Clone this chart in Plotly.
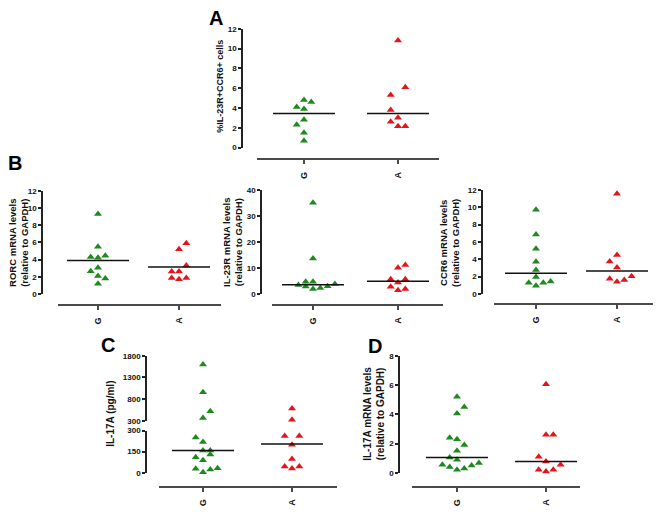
import plotly.graph_objects as go

W, H = 661, 514
OFF = 8  # default page body margin

# ---------------- data ----------------
groups = ["G", "A"]

# Panel A: %IL-23R+CCR6+ cells
a_g = [4.8, 4.6, 4.1, 3.9, 2.8, 2.3, 1.5, 0.7]
a_a = [10.8, 6.1, 5.3, 3.8, 3.0, 2.6, 2.15, 2.15]
a_med = [3.45, 3.45]

# Panel B1: RORC mRNA levels
rorc_g = [9.3, 5.5, 4.3, 4.2, 4.45, 3.05, 2.65, 2.1, 1.8, 1.2]
rorc_a = [5.9, 5.2, 3.3, 2.6, 2.6, 1.85, 1.7, 1.85]
rorc_med = [3.9, 3.15]

# Panel B2: IL-23R mRNA levels
il23r_g = [35.0, 13.6, 4.7, 4.7, 3.4, 2.9, 1.9, 2.3, 3.0, 3.8]
il23r_a = [11.1, 10.1, 5.7, 5.7, 4.4, 2.8, 1.4, 1.9]
il23r_med = [3.5, 4.9]

# Panel B3: CCR6 mRNA levels
ccr6_g = [9.7, 6.85, 5.2, 3.7, 2.75, 1.95, 1.3, 0.95, 1.3, 1.45]
ccr6_a = [11.55, 4.5, 3.75, 3.05, 2.05, 1.75, 1.6, 1.4]
ccr6_med = [2.4, 2.65]

# Panel C: IL-17A (pg/ml), broken axis at 300
il17_g = [1600, 960, 520, 360, 250, 218, 159, 159, 129, 110, 89, 28, 3, 23, 33]
il17_a = [585, 320, 262, 262, 199, 98, 45, 30, 45]
il17_med = [159, 204]

# Panel D: IL-17A mRNA levels
il17m_g = [5.2, 4.5, 4.05, 2.4, 2.3, 1.9, 1.5, 1.05, 0.9, 0.55, 0.4, 0.2, 0.3, 0.5, 0.67]
il17m_a = [6.05, 2.6, 2.6, 1.1, 0.77, 0.55, 0.2, 0.08, 0.2]
il17m_med = [1.05, 0.78]

# horizontal jitter slots (presentation only)
a_g_slot = [0, 1, -1, 0, 0, -1, 0, 0]
a_a_slot = [0, 1, -1, -1, 0, -1, 0, 1]
rorc_g_slot = [0, 0, -1, 0, 1, 0, -1, 0, 1, 0]
rorc_a_slot = [1, 0, 1, -1, 0, -1, 0, 1]
il23r_g_slot = [0, 0, -1, 0, -2, -1, 0, 1, 2, 3]
il23r_a_slot = [1, 0, -1, 1, 0, -1, 0, 1]
ccr6_g_slot = [0, 0, 0, 0, 0, 0, -1, 0, 1, 2]
ccr6_a_slot = [0, 0, -1, 0, 2, -1, 1, 0]
il17_g_slot = [0, 0, 1, 0, -1, 0, 0, 1, 1, -1, 0, -1, 0, 1, 2]
il17_a_slot = [0, 0, -1, 1, 0, 0, -1, 0, 1]
il17m_g_slot = [0, 1, 0, -1, 0, 1, 0, -1, 0, -2, -1, 0, 1, 2, 3]
il17m_a_slot = [0, 0, 1, -1, 0, 2, -1, 0, 1]

# ---------------- styling ----------------
GREEN = "#1c8a1c"
RED = "#e3141b"
FONT = "Liberation Sans, Arial, sans-serif"
SLOT_PX = 7.3
MED_HALF_PX = 31

def px_x(p):
    return (p - OFF) / W

def px_y(p):
    return 1 - (p - OFF) / H

fig = go.Figure()
layout = {}

def make_x(n, spec):
    unit = spec["a"] - spec["g"]
    rng = [(spec["xl"] - spec["g"]) / unit, (spec["xr"] - spec["g"]) / unit]
    layout["xaxis" + ("" if n == 1 else str(n))] = dict(
        domain=[px_x(spec["xl"]), px_x(spec["xr"])],
        range=rng, anchor="free", position=px_y(spec["xline"]),
        showline=True, linecolor="#4a4a4a", linewidth=2,
        ticks="outside", ticklen=4, tickwidth=1.5, tickcolor="#4a4a4a",
        tickvals=[0, 1], ticktext=groups, tickangle=-90, ticklabelstandoff=4,
        tickfont=dict(family=FONT, size=9, color="#111", weight="bold"),
        showgrid=False, zeroline=False, fixedrange=True,
    )
    return unit

def make_y(n, yx, y0, yt, rng, tickvals):
    layout["yaxis" + ("" if n == 1 else str(n))] = dict(
        domain=[px_y(y0), px_y(yt)], range=rng,
        anchor="free", position=px_x(yx),
        showline=True, linecolor="#222", linewidth=1.5,
        ticks="outside", ticklen=3, tickwidth=1.5, tickcolor="#222",
        tickvals=tickvals, ticktext=[str(v) for v in tickvals],
        tickfont=dict(family=FONT, size=8, color="#111", weight="bold"),
        showgrid=False, zeroline=False, fixedrange=True,
    )

def add_points(vals, slots, grp, color, xn, yn, unit):
    fig.add_trace(go.Scatter(
        x=[grp + s * SLOT_PX / unit for s in slots], y=vals,
        mode="markers", cliponaxis=False,
        marker=dict(symbol="triangle-up", size=7, color=color, line=dict(width=0)),
        xaxis="x" + ("" if xn == 1 else str(xn)),
        yaxis="y" + ("" if yn == 1 else str(yn)),
        showlegend=False, hoverinfo="y",
    ))

def add_median(m, grp, xn, yn, unit):
    h = MED_HALF_PX / unit
    fig.add_trace(go.Scatter(
        x=[grp - h, grp + h], y=[m, m], mode="lines", cliponaxis=False,
        line=dict(color="#111", width=1.5),
        xaxis="x" + ("" if xn == 1 else str(xn)),
        yaxis="y" + ("" if yn == 1 else str(yn)),
        showlegend=False, hoverinfo="skip",
    ))

def simple_panel(n, spec, yr, tv, g, a, gs, as_, med):
    unit = make_x(n, spec)
    make_y(n, spec["yx"], spec["y0"], spec["yt"], yr, tv)
    add_points(g, gs, 0, GREEN, n, n, unit)
    add_points(a, as_, 1, RED, n, n, unit)
    add_median(med[0], 0, n, n, unit)
    add_median(med[1], 1, n, n, unit)

simple_panel(1, dict(yx=242, y0=146, yt=25, xline=158, xl=257, xr=439, g=304, a=398),
             [0, 12], [0, 2, 4, 6, 8, 10, 12], a_g, a_a, a_g_slot, a_a_slot, a_med)
simple_panel(2, dict(yx=42, y0=295, yt=190, xline=306, xl=58, xr=221, g=98, a=179),
             [0, 12], [0, 2, 4, 6, 8, 10, 12], rorc_g, rorc_a, rorc_g_slot, rorc_a_slot, rorc_med)
simple_panel(3, dict(yx=261, y0=295, yt=189, xline=306, xl=272, xr=443, g=313, a=398),
             [0, 40], [0, 10, 20, 30, 40], il23r_g, il23r_a, il23r_g_slot, il23r_a_slot, il23r_med)
simple_panel(4, dict(yx=482, y0=295, yt=189, xline=305, xl=494, xr=653, g=536, a=617),
             [0, 12], [0, 2, 4, 6, 8, 10, 12], ccr6_g, ccr6_a, ccr6_g_slot, ccr6_a_slot, ccr6_med)

# Panel C: broken axis (lower 0-300 on y5, upper 300-1800 on y6)
BREAK = 300
specC = dict(yx=146, xline=491, xl=159, xr=337, g=203, a=292)
unitC = make_x(5, specC)
make_y(5, 146, 477, 434, [0, 300], [0, 150, 300])
make_y(6, 146, 424, 358, [300, 1800], [300, 800, 1300, 1800])
for vals, slots, grp, col in [(il17_g, il17_g_slot, 0, GREEN), (il17_a, il17_a_slot, 1, RED)]:
    lo = [(v, s) for v, s in zip(vals, slots) if v <= BREAK]
    hi = [(v, s) for v, s in zip(vals, slots) if v > BREAK]
    add_points([v for v, _ in lo], [s for _, s in lo], grp, col, 5, 5, unitC)
    add_points([v for v, _ in hi], [s for _, s in hi], grp, col, 5, 6, unitC)
add_median(il17_med[0], 0, 5, 5, unitC)
add_median(il17_med[1], 1, 5, 5, unitC)

# Panel D
specD = dict(yx=399, y0=477, yt=358, xline=491, xl=412, xr=580, g=457, a=546)
unitD = make_x(6, specD)
make_y(7, 399, 477, 358, [0, 8], [0, 2, 4, 6, 8])
add_points(il17m_g, il17m_g_slot, 0, GREEN, 6, 7, unitD)
add_points(il17m_a, il17m_a_slot, 1, RED, 6, 7, unitD)
add_median(il17m_med[0], 0, 6, 7, unitD)
add_median(il17m_med[1], 1, 6, 7, unitD)

# ---------------- text ----------------
ann = []
for letter, x, y in [("A", 216, 14), ("B", 15, 162), ("C", 108, 347), ("D", 375, 348)]:
    ann.append(dict(text=letter, x=px_x(x), y=px_y(y), xref="paper", yref="paper",
                    showarrow=False, xanchor="center", yanchor="middle",
                    font=dict(family=FONT, size=20, color="#000", weight="bold")))

titles = [
    ("%IL-23R+CCR6+ cells", 220, 84, 9),
    ("RORC mRNA levels<br>(relative to GAPDH)", 19, 243, 9.5),
    ("IL-23R mRNA levels<br>(relative to GAPDH)", 233, 243, 9.5),
    ("CCR6 mRNA levels<br>(relative to GAPDH)", 450, 243, 9.5),
    ("IL-17A (pg/ml)", 111, 417, 10),
    ("IL-17A mRNA levels<br>(relative to GAPDH)", 374, 417, 10),
]
for t, x, y, s in titles:
    ann.append(dict(text=t, x=px_x(x), y=px_y(y), xref="paper", yref="paper",
                    showarrow=False, textangle=-90, xanchor="center", yanchor="middle",
                    font=dict(family=FONT, size=s, color="#111", weight="bold")))

fig.update_layout(
    width=W, height=H, margin=dict(l=0, r=0, t=0, b=0),
    paper_bgcolor="white", plot_bgcolor="white",
    showlegend=False, annotations=ann, **layout,
)

fig.write_html("out.html")
